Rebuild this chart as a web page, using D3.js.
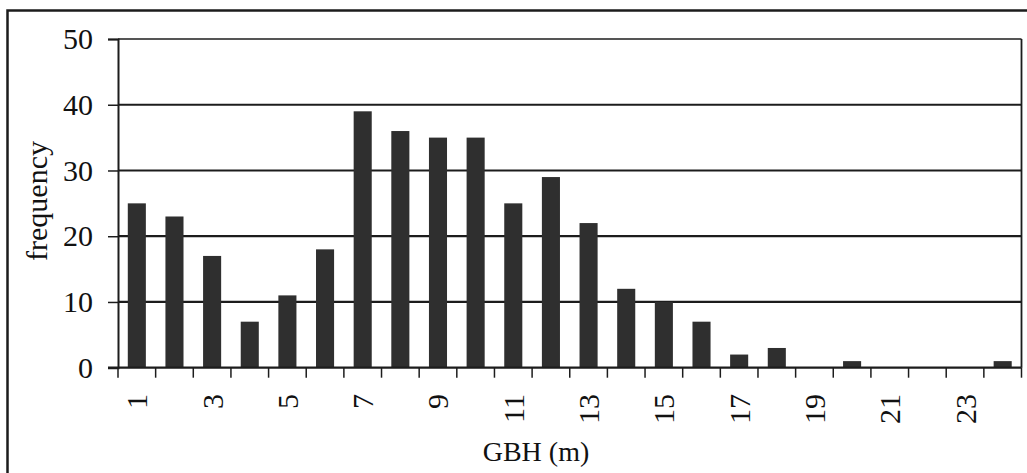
<!DOCTYPE html>
<html><head><meta charset="utf-8">
<script src="https://cdn.jsdelivr.net/npm/d3@7"></script>
<style>body{margin:0;background:#fff}svg{display:block}</style>
</head><body>
<script>
const categories = d3.range(1, 25).map(String);
const frequency = [25,23,17,7,11,18,39,36,35,35,25,29,22,12,10,7,2,3,0,1,0,0,0,1];
const yTicks = [0,10,20,30,40,50];
const xTickLabels = ["1","3","5","7","9","11","13","15","17","19","21","23"];

(function () {
const W = 1027, H = 473;
const pL = 118, pR = 1021.5, pT = 39, pB = 367.7;
const ink = "#1c1c1c";
const svg = d3.select("body").append("svg").attr("width", W).attr("height", H);
svg.append("rect").attr("width", W).attr("height", H).attr("fill", "#fff");
// outer border (left/top visible)
svg.append("rect").attr("x", 7.5).attr("y", 10.5).attr("width", 1060).attr("height", 500)
  .attr("fill", "none").attr("stroke", ink).attr("stroke-width", 2.5);

const x = d3.scaleBand().domain(categories).range([pL, pR]).paddingInner(0.52).paddingOuter(0.26);
const xb = d3.scaleBand().domain(categories).range([pL, pR]);
const y = d3.scaleLinear().domain([0, 50]).range([pB, pT]);
const font = "'Liberation Serif', 'Times New Roman', serif";

// gridlines
svg.append("g").selectAll("line").data(yTicks.filter(d => d > 0)).join("line")
  .attr("x1", pL).attr("x2", pR).attr("y1", d => y(d)).attr("y2", d => y(d))
  .attr("stroke", ink).attr("stroke-width", d => d === 50 ? 1.6 : 2.2);
// right frame
svg.append("line").attr("x1", pR).attr("x2", pR).attr("y1", pT).attr("y2", pB)
  .attr("stroke", ink).attr("stroke-width", 1.8);

// bars
svg.append("g").selectAll("rect").data(frequency).join("rect")
  .attr("x", (d, i) => x(categories[i])).attr("width", x.bandwidth())
  .attr("y", d => y(d)).attr("height", d => pB - y(d))
  .attr("fill", "#2f2f2f");

// y axis
const yAxis = svg.append("g").attr("transform", `translate(${pL},0)`)
  .call(d3.axisLeft(y).tickValues(yTicks).tickSize(10).tickPadding(15).tickFormat(d3.format("d")));
yAxis.select(".domain").attr("stroke", ink).attr("stroke-width", 2);
yAxis.selectAll(".tick line").attr("stroke", ink).attr("stroke-width", 1.5);
yAxis.selectAll("text").attr("font-family", font).attr("font-size", 30).attr("fill", "#111");

// x axis: ticks at band boundaries
const bounds = categories.map(c => xb(c)).concat([pR]);
svg.append("g").selectAll("line").data(bounds).join("line")
  .attr("x1", d => d).attr("x2", d => d).attr("y1", pB).attr("y2", pB + 10)
  .attr("stroke", ink).attr("stroke-width", 1.5);
svg.append("line").attr("x1", pL - 10).attr("x2", pR).attr("y1", pB).attr("y2", pB)
  .attr("stroke", ink).attr("stroke-width", 2.2);

svg.append("g").selectAll("text").data(xTickLabels).join("text")
  .attr("transform", d => `translate(${xb(d) + xb.bandwidth() / 2},394) rotate(-90)`)
  .attr("text-anchor", "end").attr("dy", "0.35em")
  .attr("font-family", font).attr("font-size", 30).attr("fill", "#111")
  .text(d => d);

// axis titles
svg.append("text").attr("transform", "translate(36,201) rotate(-90)")
  .attr("text-anchor", "middle").attr("dy", "0.35em")
  .attr("font-family", font).attr("font-size", 30).attr("fill", "#111").text("frequency");
svg.append("text").attr("x", 536).attr("y", 461).attr("text-anchor", "middle")
  .attr("font-family", font).attr("font-size", 28).attr("fill", "#111").text("GBH (m)");
})();
</script>
</body></html>
